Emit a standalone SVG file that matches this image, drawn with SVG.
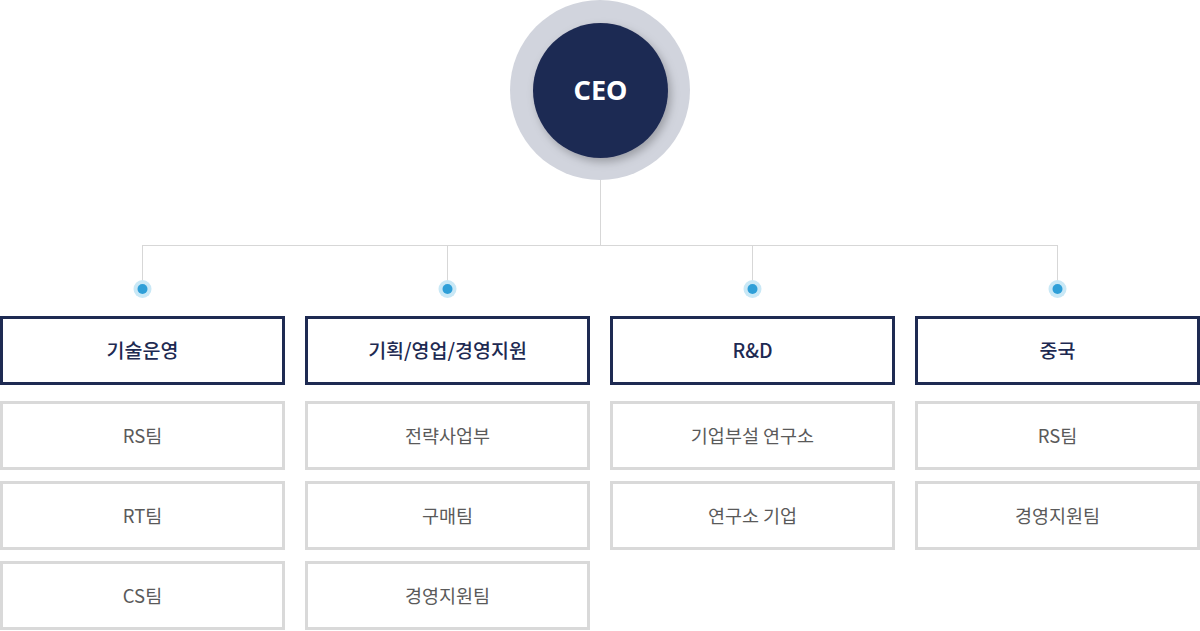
<svg xmlns="http://www.w3.org/2000/svg" width="1200" height="631" viewBox="0 0 1200 631">
<defs>
<filter id="sh" x="-20%" y="-20%" width="150%" height="150%">
<feDropShadow dx="3" dy="4" stdDeviation="4" flood-color="#000" flood-opacity="0.25"/>
</filter>
<style>
.hd{fill:#fff;stroke:#1e2a52;stroke-width:3}
.sb{fill:#fff;stroke:#d9d9d9;stroke-width:3}
.ht{font-family:"Noto Sans CJK KR","Noto Sans",sans-serif;font-size:19.5px;font-weight:500;fill:#1e2a52;text-anchor:middle}
.st{font-family:"Noto Sans CJK KR","Noto Sans",sans-serif;font-size:18.5px;font-weight:400;fill:#5a5a5a;text-anchor:middle}
.ln{stroke:#d7d7d7;stroke-width:1;fill:none}
.d1{fill:#c9e8f6}
.d2{fill:#2e9fd8}
</style>
</defs>
<rect width="1200" height="631" fill="#fff"/>
<g id="connectors">
<path class="ln" d="M600.5 158V245.5M142.5 245.5H1057.5M142.5 245V281M447.5 245V281M752.5 245V281M1057.5 245V281"/>
<circle class="d1" cx="142.5" cy="289" r="9"/><circle class="d2" cx="142.5" cy="289" r="5"/>
<circle class="d1" cx="447.5" cy="289" r="9"/><circle class="d2" cx="447.5" cy="289" r="5"/>
<circle class="d1" cx="752.5" cy="289" r="9"/><circle class="d2" cx="752.5" cy="289" r="5"/>
<circle class="d1" cx="1057.5" cy="289" r="9"/><circle class="d2" cx="1057.5" cy="289" r="5"/>
</g>
<g id="ceo">
<circle cx="600" cy="90" r="90" fill="#d1d4dd"/>
<circle cx="600.5" cy="90.5" r="67.5" fill="#1e2a52" filter="url(#sh)"/>
<text x="600.5" y="100" font-family="'Noto Sans','Noto Sans CJK KR',sans-serif" font-size="27" font-weight="bold" fill="#fff" text-anchor="middle">CEO</text>
</g>
<g id="col1">
<rect class="hd" x="1.5" y="317.5" width="282" height="66"/><text class="ht" x="142.5" y="358">기술운영</text>
<rect class="sb" x="1.5" y="402.5" width="282" height="66"/><text class="st" x="142.5" y="443">RS팀</text>
<rect class="sb" x="1.5" y="482.5" width="282" height="66"/><text class="st" x="142.5" y="523">RT팀</text>
<rect class="sb" x="1.5" y="562.5" width="282" height="66"/><text class="st" x="142.5" y="603">CS팀</text>
</g>
<g id="col2">
<rect class="hd" x="306.5" y="317.5" width="282" height="66"/><text class="ht" x="447.5" y="358">기획/영업/경영지원</text>
<rect class="sb" x="306.5" y="402.5" width="282" height="66"/><text class="st" x="447.5" y="443">전략사업부</text>
<rect class="sb" x="306.5" y="482.5" width="282" height="66"/><text class="st" x="447.5" y="523">구매팀</text>
<rect class="sb" x="306.5" y="562.5" width="282" height="66"/><text class="st" x="447.5" y="603">경영지원팀</text>
</g>
<g id="col3">
<rect class="hd" x="611.5" y="317.5" width="282" height="66"/><text class="ht" x="752.5" y="358">R&amp;D</text>
<rect class="sb" x="611.5" y="402.5" width="282" height="66"/><text class="st" x="752.5" y="443">기업부설 연구소</text>
<rect class="sb" x="611.5" y="482.5" width="282" height="66"/><text class="st" x="752.5" y="523">연구소 기업</text>
</g>
<g id="col4">
<rect class="hd" x="916.5" y="317.5" width="282" height="66"/><text class="ht" x="1057.5" y="358">중국</text>
<rect class="sb" x="916.5" y="402.5" width="282" height="66"/><text class="st" x="1057.5" y="443">RS팀</text>
<rect class="sb" x="916.5" y="482.5" width="282" height="66"/><text class="st" x="1057.5" y="523">경영지원팀</text>
</g>
</svg>
